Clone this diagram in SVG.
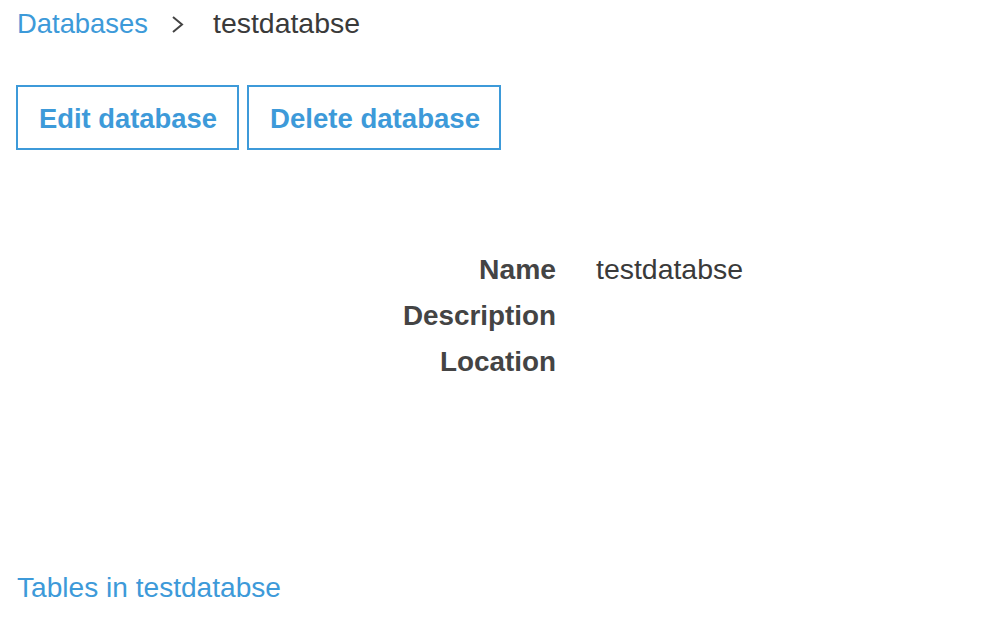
<svg xmlns="http://www.w3.org/2000/svg" width="992" height="642" viewBox="0 0 992 642">
<style>
  text { font-family: "Liberation Sans", Arial, Helvetica, sans-serif; }
  .link { fill: #3d9ad9; font-size: 27.5px; }
  .dark { fill: #3a3a3a; font-size: 27.5px; }
  .btn rect { fill: #ffffff; stroke: #3d9ad9; stroke-width: 2; }
  .btn text { fill: #3d9ad9; font-size: 27.5px; font-weight: bold; }
  .label { fill: #444444; font-size: 27.5px; font-weight: bold; text-anchor: end; }
  .value { fill: #3a3a3a; font-size: 27.5px; }
</style>
<rect width="992" height="642" fill="#ffffff"/>
<g id="breadcrumb">
  <text class="link" x="17" y="33" textLength="131" lengthAdjust="spacingAndGlyphs">Databases</text>
  <polyline points="173,17 182,24.5 173,32" fill="none" stroke="#444444" stroke-width="2"/>
  <text class="dark" x="213" y="33" textLength="147" lengthAdjust="spacingAndGlyphs">testdatabse</text>
</g>
<g id="edit-button" class="btn">
  <rect x="17" y="86" width="221" height="63"/>
  <text x="39" y="128" textLength="178" lengthAdjust="spacingAndGlyphs">Edit database</text>
</g>
<g id="delete-button" class="btn">
  <rect x="248" y="86" width="252" height="63"/>
  <text x="270" y="128" textLength="210" lengthAdjust="spacingAndGlyphs">Delete database</text>
</g>
<g id="details">
  <text class="label" x="556" y="279" textLength="77" lengthAdjust="spacingAndGlyphs">Name</text>
  <text class="value" x="596" y="279" textLength="147" lengthAdjust="spacingAndGlyphs">testdatabse</text>
  <text class="label" x="556" y="325" textLength="153" lengthAdjust="spacingAndGlyphs">Description</text>
  <text class="label" x="556" y="371" textLength="116" lengthAdjust="spacingAndGlyphs">Location</text>
</g>
<g id="tables-link">
  <text class="link" x="17" y="597" textLength="264" lengthAdjust="spacingAndGlyphs">Tables in testdatabse</text>
</g>
<g id="connectors"></g>
</svg>
